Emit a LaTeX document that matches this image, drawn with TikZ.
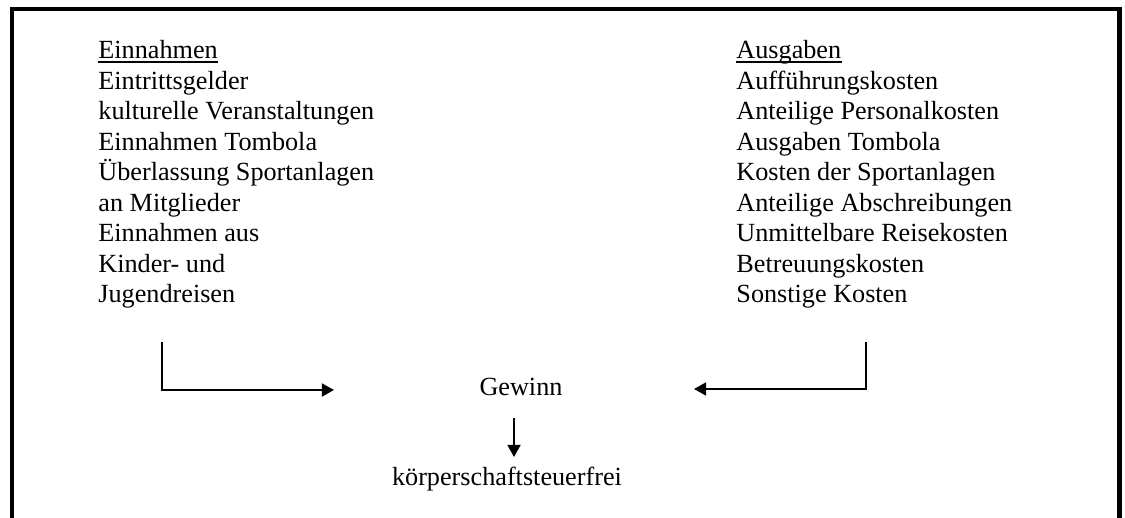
\documentclass[tikz,border=0pt]{standalone}
\usepackage{fontspec}
\setmainfont{Liberation Serif}
\usetikzlibrary{arrows.meta}

\tikzset{
  txt/.style={inner sep=0pt, anchor=base west, font=\fontsize{12pt}{13.9pt}\selectfont},
  ctr/.style={inner sep=0pt, anchor=base, font=\fontsize{12pt}{13.9pt}\selectfont},
  frame/.style={line width=1.9pt, line join=miter},
  flow/.style={line width=0.85pt, -{Triangle[length=5.6pt,width=6pt]}},
  uline/.style={line width=0.85pt}
}

\begin{document}
\begin{tikzpicture}[x=0.458pt, y=-0.458pt]
  \useasboundingbox (0,0) rectangle (1125,518);

  % open frame (no bottom edge)
  \draw[frame] (12,518) -- (12,9) -- (1119.5,9) -- (1119.5,518);

  % income column
  \node[txt] (lhead) at (98,59) {Einnahmen};
  \draw[uline] ([yshift=-1.5pt]lhead.base west) -- ([yshift=-1.5pt]lhead.base east);
  \foreach \t [count=\i] in {Eintrittsgelder, kulturelle Veranstaltungen,
      Einnahmen Tombola, Überlassung Sportanlagen, an Mitglieder,
      Einnahmen aus, Kinder- und, Jugendreisen}
    \node[txt] (l\i) at (98,59+30.5*\i) {\t};

  % expense column
  \node[txt] (rhead) at (736,59) {Ausgaben};
  \draw[uline] ([yshift=-1.5pt]rhead.base west) -- ([yshift=-1.5pt]rhead.base east);
  \foreach \t [count=\i] in {Aufführungskosten, Anteilige Personalkosten,
      Ausgaben Tombola, Kosten der Sportanlagen, Anteilige Abschreibungen,
      Unmittelbare Reisekosten, Betreuungskosten, Sonstige Kosten}
    \node[txt] (r\i) at (736,59+30.5*\i) {\t};

  % result
  \node[ctr] (gewinn) at (521,396) {Gewinn};
  \node[ctr] (frei) at (507,486) {körperschaftsteuerfrei};

  % connector end points
  \coordinate (ltop) at (162,342);
  \coordinate (lbend) at (162,390);
  \coordinate (lend) at (334,390);
  \coordinate (rtop) at (866,342);
  \coordinate (rbend) at (866,389);
  \coordinate (rend) at (694,389);
  \coordinate (dtop) at (514,418);
  \coordinate (dend) at (514,457);

  \draw[flow] (ltop) -- (lbend) -- (lend);
  \draw[flow] (rtop) -- (rbend) -- (rend);
  \draw[flow] (dtop) -- (dend);
\end{tikzpicture}
\end{document}
